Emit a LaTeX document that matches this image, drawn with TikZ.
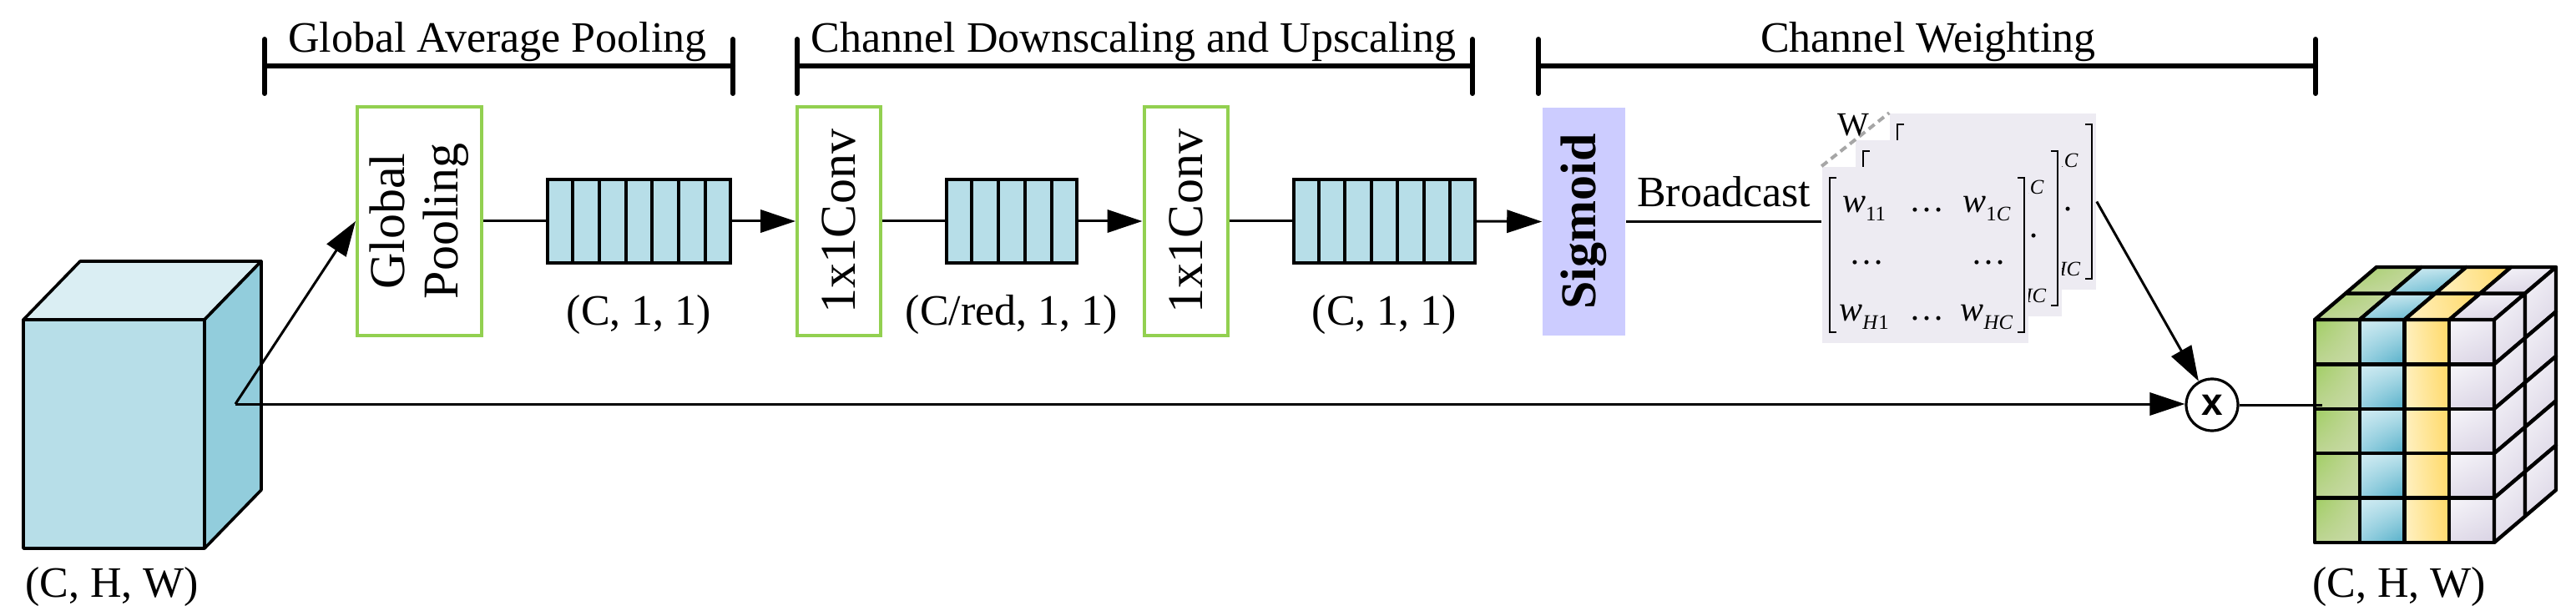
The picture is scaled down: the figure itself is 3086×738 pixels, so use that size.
\documentclass[tikz,border=0pt]{standalone}
\usepackage{fontspec}
\setmainfont{Liberation Serif}
\newfontfamily\sansx{Liberation Sans}
\usetikzlibrary{arrows.meta,calc,shadings}
\definecolor{cubefront}{HTML}{B7DEE8}
\definecolor{cubetop}{HTML}{DAEEF3}
\definecolor{cuberight}{HTML}{92CDDC}
\definecolor{vecfill}{HTML}{B7DEE8}
\definecolor{boxgreen}{HTML}{92D050}
\definecolor{sigfill}{HTML}{CCCCFF}
\definecolor{panelfill}{HTML}{EDEBF2}
\definecolor{dashgray}{HTML}{A6A6A6}
\definecolor{gUL}{HTML}{A0CE62}\definecolor{gUR}{HTML}{C3D69B}\definecolor{gLL}{HTML}{BED594}\definecolor{gLR}{HTML}{C9DAA8}
\definecolor{bUL}{HTML}{D2ECF3}\definecolor{bUR}{HTML}{BEE3EC}\definecolor{bLL}{HTML}{96D0E0}\definecolor{bLR}{HTML}{54AFC9}
\definecolor{yUL}{HTML}{FFF0BE}\definecolor{yUR}{HTML}{FFD966}\definecolor{yLL}{HTML}{FFF1C4}\definecolor{yLR}{HTML}{FFDB70}
\definecolor{lUL}{HTML}{F7F6FA}\definecolor{lUR}{HTML}{ECE9F2}\definecolor{lLL}{HTML}{E2DDEA}\definecolor{lLR}{HTML}{D9D3E4}
\newcommand\wsub[1]{\textit{w}\raisebox{-0.5ex}{\fontsize{6.2}{7}\selectfont #1}}
\newcommand\matpanel[1]{%
  \node[panel] (#1) at (2306.5,305.5) {};
  \draw[mbr] (2200,213) -- (2192,213) -- (2192,398) -- (2200,398);
  \draw[mbr] (2417,213) -- (2425,213) -- (2425,398) -- (2417,398);
  \node[ment] at (2233,250) {\wsub{11}};
  \node[ment] at (2308,252) {\dots};
  \node[ment] at (2380,250) {\wsub{1\textit{C}}};
  \node[ment] at (2236,315) {\dots};
  \node[ment] at (2382,315) {\dots};
  \node[ment] at (2233,380) {\wsub{\textit{H}1}};
  \node[ment] at (2308,382) {\dots};
  \node[ment] at (2380,380) {\wsub{\textit{HC}}};
}
\begin{document}
\begin{tikzpicture}[x=0.25pt,y=-0.25pt,
  lbl/.style={font=\fontsize{13}{15}\selectfont, inner sep=0pt},
  brk/.style={line width=1.5pt, line cap=round},
  vbox/.style={draw=boxgreen, line width=1pt, minimum height=68.5pt, inner sep=0pt,
     font=\fontsize{15}{18}\selectfont},
  vecbox/.style={draw, fill=vecfill, line width=1pt, minimum height=25pt, inner sep=0pt},
  conn/.style={line width=0.75pt},
  arr/.style={conn, -{Triangle[length=10.5pt,width=6.8pt]}},
  panel/.style={fill=panelfill, minimum width=61.75pt, minimum height=52.75pt, inner sep=0pt},
  mbr/.style={line width=0.6pt},
  ment/.style={font=\fontsize{10.5}{12}\selectfont, inner sep=0pt},
  cubeline/.style={line width=0.9pt, line join=round},
  gcube/.style={line width=1.1pt, line join=round},
  Gsh/.style={upper left=gUL, upper right=gUR, lower left=gLL, lower right=gLR},
  Bsh/.style={upper left=bUL, upper right=bUR, lower left=bLL, lower right=bLR},
  Ysh/.style={upper left=yUL, upper right=yUR, lower left=yLL, lower right=yLR},
  Lsh/.style={upper left=lUL, upper right=lUR, lower left=lLL, lower right=lLR}
]
\useasboundingbox (0,0) rectangle (3086,738);

% ---- brackets ----
\draw[brk] (317,47) -- (317,112) (317,79) -- (878,79) (878,47) -- (878,112);
\node[lbl, anchor=base] at (596,63) {Global Average Pooling};
\draw[brk] (955,47) -- (955,112) (955,79) -- (1764,79) (1764,47) -- (1764,112);
\node[lbl, anchor=base] at (1358,63) {Channel Downscaling and Upscaling};
\draw[brk] (1843,47) -- (1843,112) (1843,79) -- (2774,79) (2774,47) -- (2774,112);
\node[lbl, anchor=base] at (2310,63) {Channel Weighting};

% ---- left cube ----
\filldraw[cubeline, fill=cubetop] (28,383) -- (96,313) -- (313,313) -- (245,383) -- cycle;
\filldraw[cubeline, fill=cuberight] (245,383) -- (313,313) -- (313,587) -- (245,657) -- cycle;
\filldraw[cubeline, fill=cubefront] (28,383) rectangle (245,657);
\node[lbl, anchor=base] at (134,715) {(C, H, W)};
\coordinate (cubeout) at (282,484);

% ---- processing boxes ----
\node[vbox, minimum width=37.25pt] (gp) at (502.5,265)
  {\rotatebox{90}{\begin{tabular}{@{}c@{}}Global\\[-2pt]Pooling\end{tabular}}};
\node[vecbox, minimum width=54.75pt] (v1) at (765.5,265) {};
\node[vbox, minimum width=25pt] (c1) at (1005,265) {\rotatebox{90}{1x1Conv}};
\node[vecbox, minimum width=39pt] (v2) at (1212,265) {};
\node[vbox, minimum width=25pt] (c2) at (1420.5,265) {\rotatebox{90}{1x1Conv}};
\node[vecbox, minimum width=54.25pt] (v3) at (1658.5,265) {};
\node[fill=sigfill, minimum width=24.75pt, minimum height=68.25pt, inner sep=0pt,
      font=\fontsize{15}{18}\selectfont\bfseries] (sig) at (1897.5,265.5) {\rotatebox{90}{Sigmoid}};

\foreach \i in {1,...,6} {
  \draw[line width=1pt] ($(v1.south west)!\i/7!(v1.south east)$) -- ($(v1.north west)!\i/7!(v1.north east)$);
  \draw[line width=1pt] ($(v3.south west)!\i/7!(v3.south east)$) -- ($(v3.north west)!\i/7!(v3.north east)$);
}
\foreach \i in {1,...,4} {
  \draw[line width=1pt] ($(v2.south west)!\i/5!(v2.south east)$) -- ($(v2.north west)!\i/5!(v2.north east)$);
}
\node[lbl, anchor=base] at ($(v1.south)+(0,72)$) {(C, 1, 1)};
\node[lbl, anchor=base] at ($(v2.south)+(0,72)$) {(C/red, 1, 1)};
\node[lbl, anchor=base] at ($(v3.south)+(0,72)$) {(C, 1, 1)};

% ---- weight matrices ----
\begin{scope}[shift={(81,-64)}] \matpanel{mb} \end{scope}
\begin{scope}[shift={(40,-32)}] \matpanel{mm} \end{scope}
\matpanel{mf}
\draw[dashgray, line width=1pt, dash pattern=on 2.2pt off 1.4pt] (mf.north west) -- (mb.north west);
\node[font=\fontsize{10}{12}\selectfont, inner sep=0pt] at (2220,150) {W};

% ---- multiply ----
\node[circle, draw, line width=0.8pt, minimum size=15.5pt, inner sep=0pt,
      font=\sansx\bfseries\fontsize{11.5}{13}\selectfont] (ot) at (2650,485) {x};

% ---- right cube ----
\foreach \c/\s in {0/Gsh,1/Bsh,2/Ysh,3/Lsh} {
  \foreach \r in {0,...,4} {
    \shade[\s] ({2773+\c*53.75},{383+\r*53.4}) rectangle ++(53.75,53.4);
  }
  \foreach \l in {0,1} {
    \shade[\s] ({2773+\c*53.75+\l*37},{383-\l*31.5}) -- ++(53.75,0) -- ++(37,-31.5) -- ++(-53.75,0) -- cycle;
    \draw[gcube] ({2773+\c*53.75+\l*37},{383-\l*31.5}) -- ++(53.75,0) -- ++(37,-31.5) -- ++(-53.75,0) -- cycle;
  }
}
\foreach \r in {0,...,4} {
  \foreach \l in {0,1} {
    \shade[Lsh] ({2988+\l*37},{383+\r*53.4-\l*31.5}) -- ++(37,-31.5) -- ++(0,53.4) -- ++(-37,31.5) -- cycle;
    \draw[gcube] ({2988+\l*37},{383+\r*53.4-\l*31.5}) -- ++(37,-31.5) -- ++(0,53.4) -- ++(-37,31.5) -- cycle;
  }
}
\foreach \c in {0,...,3} {
  \foreach \r in {0,...,4} {
    \draw[gcube] ({2773+\c*53.75},{383+\r*53.4}) rectangle ++(53.75,53.4);
  }
}
\node[lbl, anchor=base] at (2874,715) {(C, H, W)};
\coordinate (cubein) at (2782,485);

% ---- connectors ----
\draw[arr] (cubeout) -- (gp.west);
\draw[arr] (cubeout) -- (cubeout -| ot.west);
\draw[conn] (gp.east) -- (v1.west);
\draw[arr] (v1.east) -- (c1.west);
\draw[conn] (c1.east) -- (v2.west);
\draw[arr] (v2.east) -- (c2.west);
\draw[conn] (c2.east) -- (v3.west);
\draw[arr] (v3.east) -- (sig.west);
\draw[conn] (sig.east) -- node[lbl, above=4pt] {Broadcast} (sig.east -| mf.west);
\draw[arr] (mb.east) -- (ot);
\draw[conn] (ot.east) -- (cubein);
\end{tikzpicture}
\end{document}
